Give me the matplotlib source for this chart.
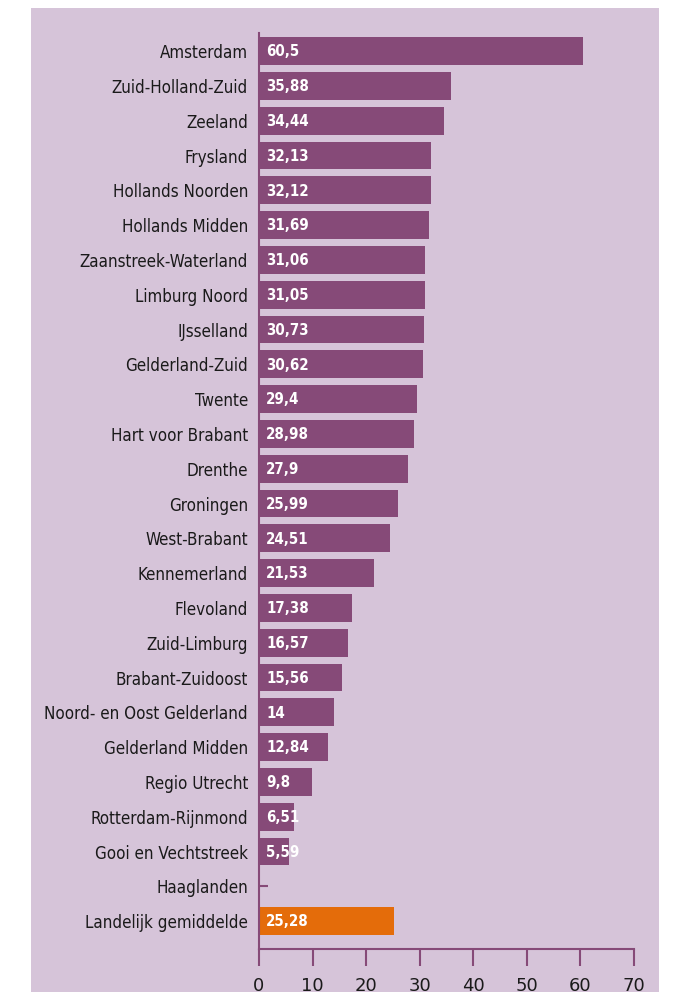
import numpy as np
import matplotlib
matplotlib.use('Agg')
from matplotlib import pyplot as plt
from matplotlib.patches import Rectangle

regios = ['Amsterdam', 'Zuid-Holland-Zuid', 'Zeeland', 'Frysland', 'Hollands Noorden',
          'Hollands Midden', 'Zaanstreek-Waterland', 'Limburg Noord', 'IJsselland',
          'Gelderland-Zuid', 'Twente', 'Hart voor Brabant', 'Drenthe', 'Groningen',
          'West-Brabant', 'Kennemerland', 'Flevoland', 'Zuid-Limburg', 'Brabant-Zuidoost',
          'Noord- en Oost Gelderland', 'Gelderland Midden', 'Regio Utrecht',
          'Rotterdam-Rijnmond', 'Gooi en Vechtstreek', 'Haaglanden', 'Landelijk gemiddelde']
waarden = [60.5, 35.88, 34.44, 32.13, 32.12, 31.69, 31.06, 31.05, 30.73, 30.62, 29.4,
           28.98, 27.9, 25.99, 24.51, 21.53, 17.38, 16.57, 15.56, 14, 12.84, 9.8, 6.51,
           5.59, None, 25.28]
labels = ['60,5', '35,88', '34,44', '32,13', '32,12', '31,69', '31,06', '31,05', '30,73',
          '30,62', '29,4', '28,98', '27,9', '25,99', '24,51', '21,53', '17,38', '16,57',
          '15,56', '14', '12,84', '9,8', '6,51', '5,59', '', '25,28']

paars = '#864a78'
oranje = '#e46c0a'
achtergrond = '#d6c4d9'
tekst = '#1a1a1a'

fig = plt.figure(figsize=(6.78, 9.92), dpi=100)
fig.patches.append(Rectangle((31 / 678, 0), 628 / 678, 984 / 992,
                             transform=fig.transFigure, facecolor=achtergrond,
                             edgecolor='none', zorder=-10))
ax = fig.add_axes([259 / 678, 43 / 992, 375 / 678, 916 / 992])
ax.set_facecolor('none')

y = np.arange(len(regios))
for i in range(len(regios)):
    if waarden[i] is None:
        continue
    kleur = oranje if i == len(regios) - 1 else paars
    ax.barh(y[i], waarden[i], height=0.8, color=kleur, zorder=2)
    ax.annotate(labels[i], (0, y[i]), xytext=(5, -0.5), textcoords='offset points',
                va='center', ha='left', color='white', fontweight='bold', fontsize=10.8,
                fontstretch='condensed', zorder=3)

ax.set_xlim(0, 70)
ax.set_ylim(25.8, -0.52)
ax.set_xticks(np.arange(0, 71, 10))
ax.set_yticks(y)
ax.set_yticklabels(regios, fontsize=12.2, fontstretch='condensed', color=tekst)
ax.tick_params(axis='y', direction='in', length=0, pad=8)
# klein streepje bij Haaglanden
t = ax.yaxis.get_major_ticks()[regios.index('Haaglanden')]
t.tick1line.set_markersize(6.5)
t.tick1line.set_markeredgewidth(1.5)
t.tick1line.set_markeredgecolor(paars)
ax.tick_params(axis='x', direction='out', length=12.5, width=1.5, color=paars,
               labelsize=13, labelcolor=tekst, pad=8)

for s in ['top', 'right']:
    ax.spines[s].set_visible(False)
for s in ['left', 'bottom']:
    ax.spines[s].set_color(paars)
    ax.spines[s].set_linewidth(1.5)

fig.savefig('out.png', dpi=100, facecolor='white')
